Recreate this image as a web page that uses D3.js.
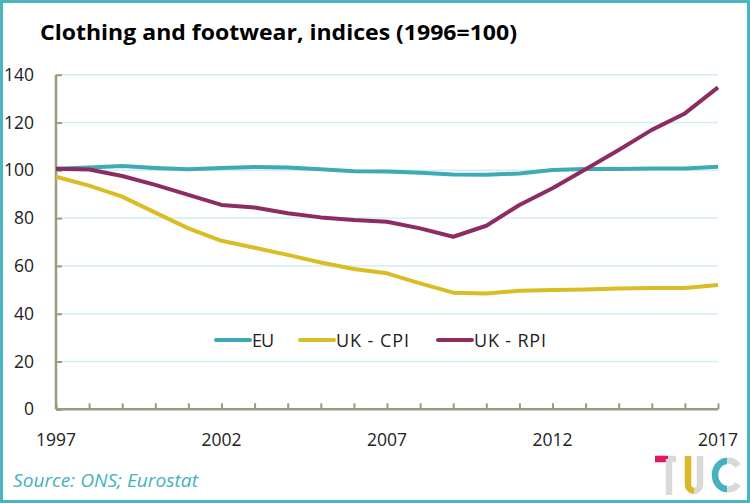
<!DOCTYPE html>
<html><head><meta charset="utf-8">
<script src="https://cdn.jsdelivr.net/npm/d3@7"></script>
<style>body{margin:0;background:#fff}svg{display:block}</style>
</head><body>
<svg id="chart" width="750" height="503"></svg>
<script>
const years = d3.range(1997, 2018);
const eu  = [100.7,101.2,101.8,101.0,100.4,101.0,101.4,101.2,100.4,99.6,99.5,99.0,98.2,98.1,98.7,100.1,100.5,100.5,100.8,100.8,101.5];
const cpi = [97.3,93.6,89.0,82.3,75.7,70.5,67.6,64.6,61.4,58.7,56.9,52.7,48.8,48.5,49.6,49.9,50.1,50.5,50.8,50.8,52.0];
const rpi = [100.7,100.3,97.6,93.9,89.7,85.5,84.4,82.0,80.3,79.2,78.5,75.7,72.2,76.8,85.5,92.5,100.4,108.5,116.9,123.8,134.7];
const seriesNames = ["EU","UK - CPI","UK - RPI"];
const seriesColors = ["#3DAAB5","#D9BD25","#8C2C63"];
const yTicks = [0,20,40,60,80,100,120,140];
const xLabelYears = [1997,2002,2007,2012,2017];
const titleText = "Clothing and footwear, indices (1996=100)";
const sourceText = "Source: ONS; Eurostat";

const svg = d3.select("#chart");
const font = "'Open Sans', 'Noto Sans', sans-serif";
const x = d3.scaleLinear().domain([1997,2017]).range([56,718]);
const y = d3.scaleLinear().domain([0,140]).range([409.3,74.7]);

// border
svg.append("rect").attr("x",1.5).attr("y",1.5).attr("width",747).attr("height",500)
  .attr("fill","#fff").attr("stroke","#4AB4BF").attr("stroke-width",3);

svg.append("text").attr("x",40).attr("y",40).text(titleText)
  .attr("font-family",font).attr("font-weight","bold").attr("font-size",21).attr("fill","#000")
  .attr("textLength",477).attr("lengthAdjust","spacingAndGlyphs");

// gridlines
svg.append("g").selectAll("line").data(yTicks.filter(d=>d>0)).join("line")
  .attr("x1",62).attr("x2",718).attr("y1",d=>y(d)).attr("y2",d=>y(d))
  .attr("stroke","#D3EEF2").attr("stroke-width",1.5);

const axisColor = "#9B9B7D";
const yAxis = svg.append("g").attr("transform","translate(56,0)")
  .call(d3.axisRight(y).tickValues(yTicks).tickSize(6).tickFormat(""));
yAxis.select(".domain").attr("stroke",axisColor).attr("stroke-width",2.5).attr("d","M0,74.7V409.3");
yAxis.selectAll(".tick line").attr("stroke",axisColor).attr("stroke-width",2);
svg.append("g").selectAll("text").data(yTicks).join("text")
  .attr("x",34).attr("y",d=>y(d)+6).attr("text-anchor","end").text(d=>d)
  .attr("font-family",font).attr("font-size",17.5).attr("fill","#222");

const xAxis = svg.append("g").attr("transform","translate(0,409.3)")
  .call(d3.axisTop(x).tickValues(years).tickSize(6).tickFormat(""));
xAxis.select(".domain").attr("stroke",axisColor).attr("stroke-width",2.5).attr("d","M56,0H718");
xAxis.selectAll(".tick line").attr("stroke",axisColor).attr("stroke-width",2);
svg.append("g").selectAll("text").data(xLabelYears).join("text")
  .attr("x",d=>x(d)).attr("y",446).attr("text-anchor","middle").text(d=>d)
  .attr("font-family",font).attr("font-size",17.5).attr("fill","#222");

const line = d3.line().x((d,i)=>x(years[i])).y(d=>y(d));
[eu,cpi,rpi].forEach((s,k)=>{
  svg.append("path").datum(s).attr("d",line).attr("fill","none")
    .attr("stroke",seriesColors[k]).attr("stroke-width",4).attr("stroke-linejoin","round");
});

// legend
const legendX = [216,300,438];
const legendW = [22,73,72];
seriesNames.forEach((n,k)=>{
  svg.append("line").attr("x1",legendX[k]).attr("x2",legendX[k]+34).attr("y1",340).attr("y2",340)
    .attr("stroke",seriesColors[k]).attr("stroke-width",4).attr("stroke-linecap","round");
  svg.append("text").attr("x",legendX[k]+36).attr("y",346.5).text(n)
    .attr("font-family",font).attr("font-size",18).attr("fill","#222")
    .attr("textLength",legendW[k]).attr("lengthAdjust","spacing");
});

svg.append("text").attr("x",13).attr("y",487).text(sourceText)
  .attr("font-family",font).attr("font-style","italic").attr("font-size",18.5).attr("fill","#45B2BE")
  .attr("textLength",185).attr("lengthAdjust","spacingAndGlyphs");

// TUC logo
const lg = svg.append("g").attr("fill","none").attr("stroke-width",6.5);
lg.append("path").attr("d","M655,459H676").attr("stroke","#D9D9D9");
lg.append("path").attr("d","M655,459H668").attr("stroke","#E2195A");
lg.append("path").attr("d","M669,459V495").attr("stroke","#D9D9D9");
lg.append("path").attr("d","M700,456V484A6.5,6.5 0 0 1 694,491").attr("stroke","#D9D9D9");
lg.append("path").attr("d","M688,456V484A6.5,6.5 0 0 0 694,491").attr("stroke","#D9B92A");
lg.append("path").attr("d","M738,466A12,14 0 0 0 727,461").attr("stroke","#D9D9D9");
lg.append("path").attr("d","M738,484A12,14 0 0 1 727,489").attr("stroke","#D9D9D9");
lg.append("path").attr("d","M727,461A12,14 0 0 0 727,489").attr("stroke","#45B2BE");
</script>
</body></html>
